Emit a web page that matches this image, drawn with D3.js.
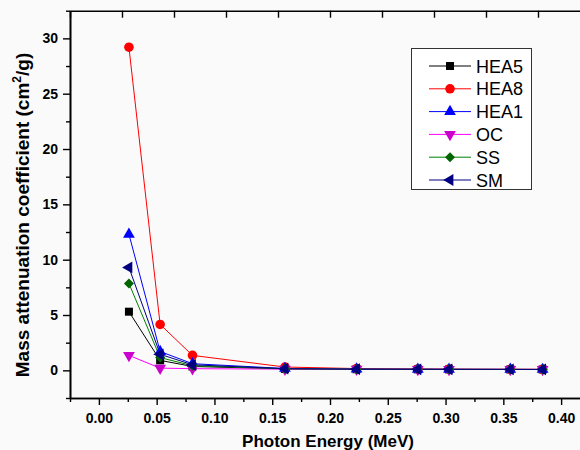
<!DOCTYPE html>
<html><head><meta charset="utf-8">
<script src="https://cdn.jsdelivr.net/npm/d3@7"></script>
<style>body{margin:0;background:#fafafa;} svg{display:block;font-family:"Liberation Sans",Arial,sans-serif;}</style>
</head><body><svg id="c" width="580" height="450"></svg>
<script>
const energies = [0.026, 0.053, 0.081, 0.161, 0.223, 0.276, 0.303, 0.356, 0.384];
const HEA5 = [5.3, 0.9, 0.35, 0.13, 0.10, 0.09, 0.085, 0.08, 0.078];
const HEA8 = [29.2, 4.15, 1.35, 0.30, 0.16, 0.12, 0.11, 0.10, 0.095];
const HEA1 = [12.3, 1.7, 0.6, 0.17, 0.11, 0.095, 0.09, 0.085, 0.08];
const OC   = [1.35, 0.2, 0.15, 0.11, 0.10, 0.09, 0.085, 0.08, 0.076];
const SS   = [7.85, 1.15, 0.42, 0.14, 0.105, 0.09, 0.087, 0.08, 0.077];
const SM   = [9.3, 1.45, 0.5, 0.15, 0.105, 0.092, 0.088, 0.082, 0.078];
const seriesNames = ["HEA5", "HEA8", "HEA1", "OC", "SS", "SM"];
const xTicks = [0.00, 0.05, 0.10, 0.15, 0.20, 0.25, 0.30, 0.35, 0.40];
const yTicks = [0, 5, 10, 15, 20, 25, 30];

const seriesData = {HEA5, HEA8, HEA1, OC, SS, SM};
const styles = {
  HEA5: {line: "#000000", fill: "#000000", sym: d3.symbolSquare, size: 64, rot: 0},
  HEA8: {line: "#ff0000", fill: "#ff0000", sym: d3.symbolCircle, size: 72, rot: 0},
  HEA1: {line: "#0000ff", fill: "#0000ff", sym: d3.symbolTriangle, size: 60, rot: 0},
  OC:   {line: "#ff00ff", fill: "#cc00cc", sym: d3.symbolTriangle, size: 60, rot: 180},
  SS:   {line: "#008000", fill: "#006400", sym: d3.symbolSquare, size: 50, rot: 45},
  SM:   {line: "#000080", fill: "#000080", sym: d3.symbolTriangle, size: 60, rot: -90}
};

const svg = d3.select("#c");
const L = 70, R = 590, T = 10.7, B = 398;
const x = d3.scaleLinear().domain([-0.025, 0.425]).range([L, R]);
const y = d3.scaleLinear().domain([-2.5, 32.5]).range([B, T]);
const xTop = d3.scaleLinear().domain([0, 10]).range([L, R]);

svg.append("rect").attr("width", 580).attr("height", 450).attr("fill", "#fafafa");

// axes
const xMinor = d3.range(-0.025, 0.426, 0.025).map(v => +v.toFixed(3)).filter(v => !xTicks.some(t => Math.abs(t - v) < 1e-6));
const yMinor = d3.range(-2.5, 32.6, 5);

const gx = svg.append("g").attr("transform", `translate(0,${B})`);
gx.call(d3.axisBottom(x).tickValues(xTicks).tickFormat(d3.format(".2f")).tickSize(7).tickSizeOuter(0));
gx.append("g").call(d3.axisBottom(x).tickValues(xMinor).tickFormat("").tickSize(4).tickSizeOuter(0));
gx.selectAll("text").attr("font-size", 14).attr("font-weight", "bold").attr("fill", "#000").attr("dy", "1.05em")
  .attr("font-family", "Liberation Sans, Arial, sans-serif");

const gy = svg.append("g").attr("transform", `translate(${L},0)`);
gy.call(d3.axisLeft(y).tickValues(yTicks).tickFormat(d3.format("d")).tickSize(7).tickSizeOuter(0));
gy.append("g").call(d3.axisLeft(y).tickValues(yMinor).tickFormat("").tickSize(4).tickSizeOuter(0));
gy.selectAll("text").attr("font-size", 14).attr("font-weight", "bold").attr("fill", "#000").attr("x", -12)
  .attr("font-family", "Liberation Sans, Arial, sans-serif");

const gt = svg.append("g").attr("transform", `translate(0,${T})`);
gt.call(d3.axisBottom(xTop).ticks(10).tickFormat("").tickSize(7).tickSizeOuter(0));

svg.selectAll(".domain").attr("stroke-width", 1.6).attr("stroke", "#000");
svg.selectAll(".tick line").attr("stroke-width", 1.4).attr("stroke", "#000");

// series
const plot = svg.append("g");
const line = d3.line().x((d, i) => x(energies[i])).y(d => y(d));
seriesNames.forEach(n => {
  plot.append("path").datum(seriesData[n]).attr("d", line)
    .attr("fill", "none").attr("stroke", styles[n].line).attr("stroke-width", 1);
});
seriesNames.forEach(n => {
  const s = styles[n];
  plot.selectAll(null).data(seriesData[n]).enter().append("path")
    .attr("d", d3.symbol().type(s.sym).size(s.size))
    .attr("transform", (d, i) => `translate(${x(energies[i])},${y(d)}) rotate(${s.rot})`)
    .attr("fill", s.fill);
});

// legend
const lg = svg.append("g");
lg.append("rect").attr("x", 411.5).attr("y", 48.5).attr("width", 120).attr("height", 141)
  .attr("fill", "#fff").attr("stroke", "#333").attr("stroke-width", 1);
seriesNames.forEach((n, i) => {
  const s = styles[n];
  const cy = 66 + i * 22.8;
  lg.append("line").attr("x1", 429).attr("x2", 471).attr("y1", cy).attr("y2", cy)
    .attr("stroke", s.line).attr("stroke-width", 1);
  lg.append("path").attr("d", d3.symbol().type(s.sym).size(s.size))
    .attr("transform", `translate(450,${cy}) rotate(${s.rot})`).attr("fill", s.fill);
  lg.append("text").attr("x", 476).attr("y", cy + 6.5).attr("font-size", 18).attr("fill", "#000").text(n);
});

// titles
svg.append("text").attr("x", 328).attr("y", 447).attr("text-anchor", "middle")
  .attr("font-size", 17).attr("font-weight", "bold").text("Photon Energy (MeV)");
const yt = svg.append("text").attr("transform", "translate(29,215) rotate(-90)").attr("text-anchor", "middle")
  .attr("font-size", 19).attr("font-weight", "bold");
yt.append("tspan").text("Mass attenuation coefficient (cm");
yt.append("tspan").attr("font-size", 12).attr("dy", -8).text("2");
yt.append("tspan").attr("dy", 8).text("/g)");
</script></body></html>
